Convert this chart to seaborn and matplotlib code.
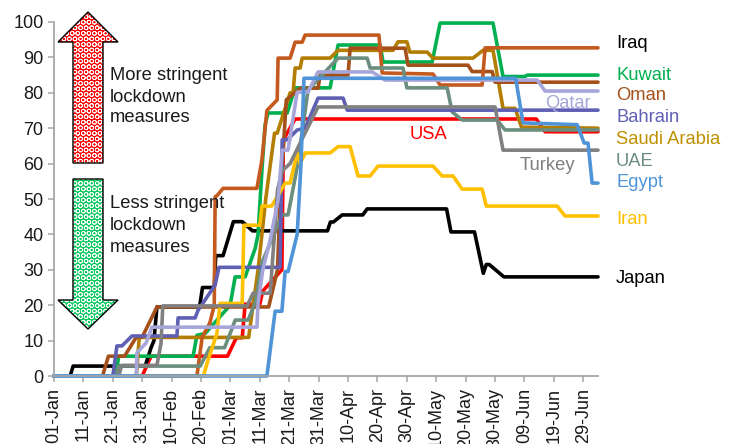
import matplotlib
matplotlib.use("Agg")
import matplotlib.pyplot as plt
from matplotlib.patches import Polygon
import pandas as pd
import seaborn as sns

tick_days = list(range(0, 181, 10))
tick_labels = ["01-Jan", "11-Jan", "21-Jan", "31-Jan", "10-Feb", "20-Feb", "01-Mar", "11-Mar", "21-Mar",
               "31-Mar", "10-Apr", "20-Apr", "30-Apr", "10-May", "20-May", "30-May", "09-Jun", "19-Jun", "29-Jun"]

usa_d = [0, 30, 33, 59, 62, 64, 65, 70, 71, 77.5, 78, 82, 164, 167, 185]
usa_v = [0, 0, 5.6, 5.6, 10.8, 10.8, 20.3, 20.3, 24, 30, 66.7, 72.6, 72.6, 69, 69]
japan_d = [0, 5.5, 6.5, 31, 33, 34, 35, 49.5, 50.5, 54.5, 55, 57.5, 61, 64, 67.5, 93, 94, 95, 98, 105, 106.5,
           133.5, 135, 143, 146, 147, 148, 153, 185]
japan_v = [0, 0, 2.8, 2.8, 8, 10, 19.5, 19.5, 25, 25, 34, 34, 43.6, 43.6, 41, 41, 43.5, 43.5, 45.5, 45.5, 47.2,
           47.2, 40.7, 40.7, 29, 31.5, 31.5, 28, 28]
kuwait_d = [0, 21, 22, 47.3, 48.6, 51.4, 59.9, 61.6, 65, 68.4, 69.4, 70.7, 71.8, 72.8, 79.3, 82, 93.9, 96.6,
            110.9, 111.9, 128.6, 131.3, 149.3, 152.7, 160.2, 160.9, 185]
kuwait_v = [0, 0, 5.6, 5.6, 11.5, 12, 20, 28, 28, 36, 40, 58, 71, 74.3, 74.3, 81.4, 81.4, 93.5,
            93.5, 88.7, 88.7, 99.7, 99.7, 84.6, 84.6, 85, 85]
saudi_d = [0, 28, 29, 66.2, 67.8, 69.4, 72, 75, 75.9, 80.3, 81.3, 82, 83.7, 84.4, 93.9, 96.6, 115.3, 117, 120,
           121, 126.9, 128.9, 142.5, 145.9, 149.3, 152.7, 156.8, 159, 185]
saudi_v = [0, 0, 10.9, 10.9, 20.6, 30, 50, 68.6, 68.6, 80, 80, 87, 87, 89.8, 89.8, 92, 92, 94.4, 94.4,
           91.5, 91.5, 89.8, 89.8, 92, 92, 75.6, 75.6, 70.3, 70]
oman_d = [0, 16.5, 18.5, 24, 28, 30, 35, 73, 76, 76.9, 79, 83.7, 89.8, 90.5, 100, 100.7, 119.4, 120.4, 140.8,
          142.2, 149, 150, 185]
oman_v = [0, 0, 5.6, 5.6, 11, 11, 19.5, 19.5, 30, 50, 78, 81.3, 81.3, 85, 85, 92.6, 92.6, 87.8, 87.8,
          86, 86, 83, 83]
iraq_d = [0, 48.6, 50.4, 53, 54.5, 54.8, 55.5, 57.5, 69, 70.7, 72.4, 75.9, 76.2, 80.3, 82, 84.4, 85.4, 110.5,
          111.6, 128.9, 131.3, 145.6, 146.6, 185]
iraq_v = [0, 0, 11, 15, 20, 50.6, 51, 53, 53, 61, 75, 78, 89.8, 89.8, 94.3, 94.3, 96.3, 96.3,
          85.6, 85.3, 82.2, 82.2, 92.7, 92.7]
uae_d = [0, 21, 22, 49.7, 53, 58, 60.5, 61.6, 66, 68.4, 70.7, 77.6, 79.6, 82.7, 86.4, 96.6, 106.5, 107.5,
         118.7, 120, 133.7, 135.4, 138.8, 150.7, 153.4, 185]
uae_v = [0, 0, 2.8, 2.8, 8, 8, 13.3, 15.8, 15.8, 20.6, 32, 45.5, 45.5, 59, 80.8, 89.8, 89.8, 87,
         87, 81.4, 81.4, 74.6, 72.3, 72.3, 69.5, 69.5]
bahrain_d = [0, 20, 21.4, 23.1, 26.5, 41.8, 42.2, 48, 49, 54.8, 56.1, 76.9, 77.6, 79.3, 82.7, 85.4, 89.8, 98.3,
             99.7, 185]
bahrain_v = [0, 0, 8.5, 8.5, 11.3, 11.3, 16.4, 16.4, 18.6, 25.7, 30.7, 30.7, 66.7, 66.7, 69.5, 70, 78.5, 78.5,
             75.1, 75.1]
iran_d = [0, 50.8, 52.4, 55.4, 56.5, 64, 64.6, 70, 70.7, 74, 76.2, 78.6, 80.3, 82.7, 83.7, 85.4, 93.9, 96.6,
          100.7, 103.4, 107.5, 110.2, 128.9, 132, 135.7, 138.8, 145.6, 147, 171.1, 173.8, 185]
iran_v = [0, 0, 4.5, 12, 20.5, 20.5, 42.6, 42.6, 48, 48, 51, 54.5, 54.5, 63, 60, 63, 63, 64.8,
          64.8, 56.5, 56.5, 59.3, 59.3, 56.5, 56.5, 52.8, 52.8, 48, 48, 45.2, 45.2]
turkey_d = [0, 22, 23, 35, 36.4, 37, 65.7, 67.7, 73.5, 74.1, 76, 77.6, 80.3, 84.7, 89.8, 150, 152.7, 185]
turkey_v = [0, 0, 3, 3, 9.3, 19.8, 19.8, 23.4, 23.4, 30, 52.5, 58, 60, 67.5, 76, 76, 63.8, 63.8]
qatar_d = [0, 28, 28.2, 30, 31.3, 33.3, 69, 69.4, 71, 73.5, 76.2, 77.6, 79.6, 82.7, 86.4, 89.8, 108.2, 112.6,
           164.3, 167, 185]
qatar_v = [0, 0, 6.5, 8.2, 9.3, 13.8, 13.8, 20.6, 30, 38.4, 49.7, 63.8, 63.8, 80.2, 80.2, 85.9, 85.9, 83.6,
           83.6, 80.5, 80.5]
egypt_d = [0, 72.4, 75.2, 77.5, 78.6, 79.6, 82.7, 84, 85, 157, 159.5, 177.9, 180.3, 181.6, 183, 185]
egypt_v = [0, 0, 18.3, 18.3, 29.5, 29.5, 40, 60, 84.1, 84.1, 71.5, 71, 65.8, 65.8, 54.5, 54.5]

draw_order = ["USA", "Japan", "Kuwait", "Saudi Arabia", "Oman", "Iraq", "UAE", "Bahrain", "Iran", "Turkey", "Qatar", "Egypt"]
series = {"USA": (usa_d, usa_v), "Japan": (japan_d, japan_v), "Kuwait": (kuwait_d, kuwait_v),
          "Saudi Arabia": (saudi_d, saudi_v), "Oman": (oman_d, oman_v), "Iraq": (iraq_d, iraq_v),
          "UAE": (uae_d, uae_v), "Bahrain": (bahrain_d, bahrain_v), "Iran": (iran_d, iran_v),
          "Turkey": (turkey_d, turkey_v), "Qatar": (qatar_d, qatar_v), "Egypt": (egypt_d, egypt_v)}
palette = {"USA": "#FF0000", "Japan": "#000000", "Kuwait": "#00B050", "Saudi Arabia": "#B27D00", "Oman": "#A5501B",
           "Iraq": "#C55A1E", "UAE": "#6B8E7E", "Bahrain": "#5F5FB4", "Iran": "#FFC000", "Turkey": "#808080",
           "Qatar": "#A6A6DA", "Egypt": "#4F94D8"}

df = pd.DataFrame([{"country": k, "day": d, "value": v}
                   for k in draw_order for d, v in zip(*series[k])])

sns.set_theme(style="white")
plt.rcParams["font.family"] = ["Liberation Sans", "DejaVu Sans"]
plt.rcParams["hatch.linewidth"] = 0.6
W, H = 735, 444
fig = plt.figure(figsize=(W / 100, H / 100), dpi=100)
ax = fig.add_axes([54 / W, 1 - 376 / H, (598 - 54) / W, (376 - 22) / H])
sns.lineplot(data=df, x="day", y="value", hue="country", hue_order=draw_order, palette=palette,
             estimator=None, sort=False, legend=False, linewidth=2.6, clip_on=False, ax=ax)
ax.set_xlim(0, 185)
ax.set_ylim(0, 100)
ax.set_xlabel("")
ax.set_ylabel("")
ax.set_xticks(tick_days)
ax.set_xticklabels(tick_labels, rotation=90)
ax.set_yticks(range(0, 101, 10))
ax.tick_params(axis="both", length=4.5, width=1.1, color="#A6A6A6", labelsize=13, labelcolor="#1a1a1a",
               bottom=True, left=True)
ax.tick_params(axis="x", pad=4)
ax.tick_params(axis="y", pad=3)
for s in ("top", "right"):
    ax.spines[s].set_visible(False)
for s in ("left", "bottom"):
    ax.spines[s].set_color("#A6A6A6")
    ax.spines[s].set_linewidth(1.3)


def arrow(points, fill):
    pts = [(x / W, 1 - y / H) for x, y in points]
    fig.add_artist(Polygon(pts, closed=True, transform=fig.transFigure, facecolor=fill, edgecolor="none", zorder=5))
    fig.add_artist(Polygon(pts, closed=True, transform=fig.transFigure, facecolor="none", edgecolor="#FFFFFF",
                           hatch="OOO", linewidth=0, zorder=6))
    fig.add_artist(Polygon(pts, closed=True, transform=fig.transFigure, facecolor="none", edgecolor="black",
                           linewidth=1.0, zorder=7))


arrow([(88, 12), (118, 42), (103, 42), (103, 163), (73, 163), (73, 42), (58, 42)], "#FF0000")
arrow([(88, 329), (118, 300), (103, 300), (103, 179), (73, 179), (73, 300), (58, 300)], "#00C85A")

notes = [(110, 76, "More stringent", "#1a1a1a"), (110, 97, "lockdown", "#1a1a1a"), (110, 118, "measures", "#1a1a1a"),
         (110, 204, "Less stringent", "#1a1a1a"), (110, 225, "lockdown", "#1a1a1a"), (110, 247, "measures", "#1a1a1a"),
         (616, 44, "Iraq", "#000000"), (616, 75, "Kuwait", "#00B050"), (616, 96, "Oman", "#A5501B"),
         (616, 118, "Bahrain", "#5F5FB4"), (616, 139, "Saudi Arabia", "#BF9000"), (616, 161, "UAE", "#6B8E7E"),
         (616, 182, "Egypt", "#4F94D8"), (616, 219, "Iran", "#FFC000"), (616, 278, "Japan", "#000000"),
         (545, 103, "Qatar", "#A6A6DA"), (520, 165, "Turkey", "#808080"), (410, 134, "USA", "#FF0000")]
for x, y, t, c in notes:
    fig.text(x / W, 1 - y / H, t, color=c, fontsize=13.2, ha="left", va="center", zorder=8)

fig.savefig("out.png", dpi=100)
